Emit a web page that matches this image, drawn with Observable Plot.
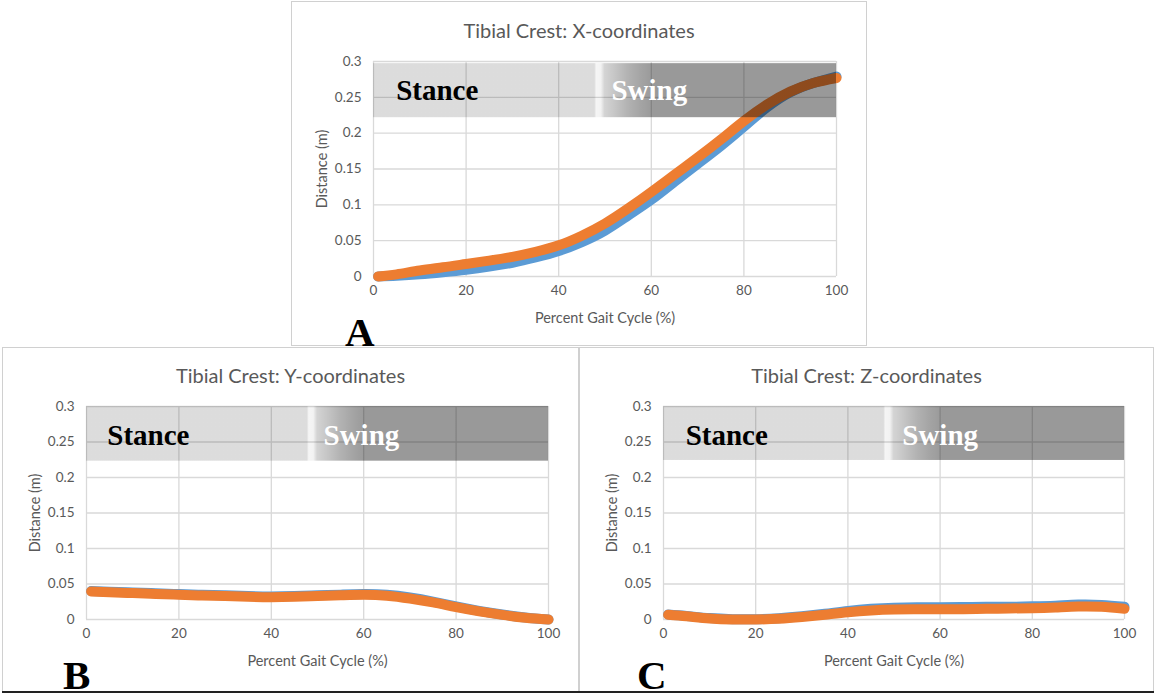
<!DOCTYPE html>
<html>
<head>
<meta charset="utf-8">
<script src="https://cdn.jsdelivr.net/npm/d3@7"></script>
<script src="https://cdn.jsdelivr.net/npm/@observablehq/plot@0.6"></script>
<style>
  html, body { margin: 0; padding: 0; background: #fff; }
  #root { position: relative; width: 1154px; height: 695px; overflow: hidden; font-family: Lato, "Open Sans", sans-serif; }
  .panel { position: absolute; border: 1px solid #d0d0d0; box-sizing: border-box; background: #fff; }
  .panel svg { position: absolute; left: 0; top: 0; }
  .title { position: absolute; left: 0; right: 0; text-align: center; font-size: 20px; color: #595959; line-height: 24px; }
  .letter { position: absolute; font-family: "Liberation Serif", "DejaVu Serif", serif; font-weight: bold; font-size: 41px; color: #000; line-height: 0.8; }
  .rule { position: absolute; left: 2px; width: 1152px; top: 691px; height: 1.5px; background: #222; }
</style>
</head>
<body>
<svg width="0" height="0" style="position:absolute">
  <defs>
    <linearGradient id="phaseGrad" x1="0" x2="1" y1="0" y2="0">
      <stop offset="0" stop-color="#000" stop-opacity="0.137"/>
      <stop offset="0.478" stop-color="#000" stop-opacity="0.137"/>
      <stop offset="0.482" stop-color="#000" stop-opacity="0.04"/>
      <stop offset="0.492" stop-color="#000" stop-opacity="0.05"/>
      <stop offset="0.50" stop-color="#000" stop-opacity="0.17"/>
      <stop offset="0.52" stop-color="#000" stop-opacity="0.22"/>
      <stop offset="0.55" stop-color="#000" stop-opacity="0.30"/>
      <stop offset="0.58" stop-color="#000" stop-opacity="0.36"/>
      <stop offset="0.605" stop-color="#000" stop-opacity="0.40"/>
      <stop offset="1" stop-color="#000" stop-opacity="0.40"/>
    </linearGradient>
  </defs>
</svg>
<div id="root">
  <div class="panel" id="pA" style="left:291px; top:1px; width:576px; height:345px;"><div class="title" style="top:16px;">Tibial Crest: X-coordinates</div></div>
  <div class="panel" id="pB" style="left:2px; top:347px; width:577px; height:345px;"><div class="title" style="top:15px;">Tibial Crest: Y-coordinates</div></div>
  <div class="panel" id="pC" style="left:579px; top:347px; width:575px; height:345px;"><div class="title" style="top:15px;">Tibial Crest: Z-coordinates</div></div>
  <div class="rule"></div>
  <div class="letter" style="left:345px; top:316px;">A</div>
  <div class="letter" style="left:63px; top:659px;">B</div>
  <div class="letter" style="left:637px; top:659px;">C</div>
</div>
<script>
// Percent gait cycle sample positions
const gaitPct = [1, 5, 10, 15, 20, 25, 30, 35, 40, 45, 50, 55, 60, 65, 70, 75, 80, 85, 90, 95, 100];

// Panel A: X-coordinates (m)
const xBlue   = [0.0, 0.001, 0.003, 0.006, 0.0095, 0.0138, 0.0192, 0.0265, 0.0355, 0.048, 0.064, 0.085, 0.107, 0.132, 0.157, 0.182, 0.209, 0.236, 0.257, 0.270, 0.279];
const xOrange = [0.0, 0.003, 0.0084, 0.0128, 0.0175, 0.0222, 0.0275, 0.0345, 0.0435, 0.057, 0.074, 0.095, 0.118, 0.142, 0.166, 0.191, 0.217, 0.240, 0.258, 0.270, 0.277];

// Panel B: Y-coordinates (m)
const yBlue   = [0.040, 0.0392, 0.038, 0.037, 0.0358, 0.0348, 0.034, 0.033, 0.0325, 0.033, 0.034, 0.035, 0.0358, 0.0348, 0.031, 0.0252, 0.0184, 0.0122, 0.007, 0.0028, 0.0];
const yOrange = [0.0395, 0.0385, 0.0372, 0.036, 0.0348, 0.0338, 0.033, 0.032, 0.0315, 0.032, 0.033, 0.034, 0.0348, 0.0335, 0.0295, 0.024, 0.0174, 0.0115, 0.0065, 0.0025, 0.0];

// Panel C: Z-coordinates (m)
const zBlue   = [0.007, 0.005, 0.002, 0.0005, 0.0003, 0.0018, 0.0045, 0.008, 0.012, 0.015, 0.0167, 0.0172, 0.0172, 0.0175, 0.018, 0.018, 0.0185, 0.0195, 0.021, 0.0205, 0.018];
const zOrange = [0.0066, 0.0045, 0.0015, 0.0, 0.0, 0.001, 0.0035, 0.0068, 0.0103, 0.0128, 0.0141, 0.0143, 0.0143, 0.0146, 0.015, 0.0155, 0.016, 0.017, 0.0182, 0.0178, 0.015];

// Axis ticks and titles
const xTicks = [0, 20, 40, 60, 80, 100];
const yTicks = [0, 0.05, 0.1, 0.15, 0.2, 0.25, 0.3];
const yTickLabels = ["0", "0.05", "0.1", "0.15", "0.2", "0.25", "0.3"];
const xTitle = "Percent Gait Cycle (%)";
const yTitle = "Distance (m)";

// Phase band (gait cycle span and distance span) and labels
const phaseSpan = [0, 100];
const phaseBandA = [0.2216, 0.297];
const phaseBandB = [0.223, 0.3];
const phaseBandC = [0.224, 0.3];
const phaseNames = ["Stance", "Swing"];
const phaseLabelPctA = [4.9, 51.4];
const phaseLabelPctB = [4.5, 51.3];
const phaseLabelPctC = [4.8, 51.8];

const BLUE = "#5B9BD5", ORANGE = "#ED7D31", GRID = "#d9d9d9", TXT = "#595959";
const FONT = "Lato, 'Open Sans', sans-serif";

function makeChart({blue, orange, band, labelPct, width, height, mL, mR, mT, mB}) {
  const rows = (vals) => gaitPct.map((p, i) => ({p, v: vals[i]}));
  const bandRow = [{x1: phaseSpan[0], x2: phaseSpan[1], y1: band[0], y2: band[1]}];
  const labelRows = phaseNames.map((n, i) => ({name: n, p: labelPct[i]}));
  return Plot.plot({
    width, height,
    marginLeft: mL, marginRight: mR, marginTop: mT, marginBottom: mB,
    style: {fontFamily: FONT, fontSize: "13px", color: TXT, background: "transparent", overflow: "visible"},
    x: {domain: [0, 100]},
    y: {domain: [0, 0.3]},
    marks: [
      Plot.gridX(xTicks, {stroke: GRID, strokeOpacity: 1, strokeWidth: 1.3}),
      Plot.gridY(yTicks, {stroke: GRID, strokeOpacity: 1, strokeWidth: 1.3}),
      Plot.axisX(xTicks, {tickSize: 0, tickPadding: 9, fontSize: 13.5, color: TXT, label: null}),
      Plot.axisY(yTicks, {tickSize: 0, tickPadding: 12, fontSize: 13.5, color: TXT, label: null,
        tickFormat: (d, i) => yTickLabels[i]}),
      Plot.text([xTitle], {frameAnchor: "bottom", dy: 42, textAnchor: "middle", lineAnchor: "middle", fontSize: 14.5, fill: TXT}),
      Plot.text([yTitle], {frameAnchor: "left", dx: -51, rotate: -90, textAnchor: "middle", lineAnchor: "middle", fontSize: 14.5, fill: TXT}),
      Plot.line(rows(blue), {x: "p", y: "v", stroke: BLUE, strokeWidth: 10, strokeLinecap: "round", curve: "natural"}),
      Plot.line(rows(orange), {x: "p", y: "v", stroke: ORANGE, strokeWidth: 10, strokeLinecap: "round", curve: "natural"}),
      Plot.rect(bandRow, {x1: "x1", x2: "x2", y1: "y1", y2: "y2", fill: "url(#phaseGrad)"}),
      Plot.text(labelRows, {x: "p", y: 0.259, text: "name", textAnchor: "start", lineAnchor: "middle",
        fill: (d) => d.name === "Stance" ? "black" : "white",
        fontFamily: "'Liberation Serif', 'DejaVu Serif', serif", fontWeight: "bold", fontSize: 29})
    ]
  });
}

document.getElementById("pA").appendChild(makeChart({blue: xBlue, orange: xOrange, band: phaseBandA, labelPct: phaseLabelPctA,
  width: 574, height: 343, mL: 81, mR: 30, mT: 59, mB: 69}));
document.getElementById("pB").appendChild(makeChart({blue: yBlue, orange: yOrange, band: phaseBandB, labelPct: phaseLabelPctB,
  width: 575, height: 343, mL: 83, mR: 30, mT: 58, mB: 72}));
document.getElementById("pC").appendChild(makeChart({blue: zBlue, orange: zOrange, band: phaseBandC, labelPct: phaseLabelPctC,
  width: 573, height: 343, mL: 83, mR: 29, mT: 58, mB: 72}));
</script>
</body>
</html>
